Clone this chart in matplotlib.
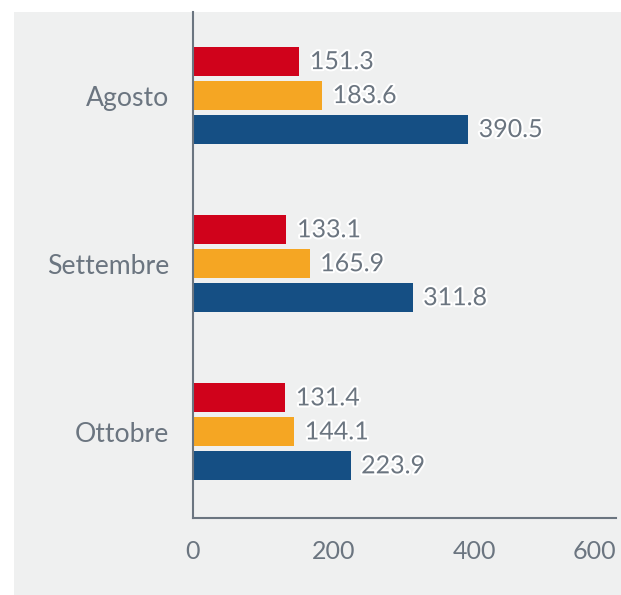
import matplotlib
matplotlib.use("Agg")
import matplotlib.pyplot as plt
import matplotlib.patheffects as pe
from matplotlib.patches import Rectangle
import numpy as np

# data
months = ["Agosto", "Settembre", "Ottobre"]
serie_rossa = [151.3, 133.1, 131.4]
serie_arancio = [183.6, 165.9, 144.1]
serie_blu = [390.5, 311.8, 223.9]
x_ticks = [0, 200, 400, 600]

colori = ["#d0021b", "#f5a623", "#154f84"]
grigio = "#6b7580"
sfondo = "#eff0f0"

plt.rcParams["font.family"] = ["Lato", "DejaVu Sans"]

fig = plt.figure(figsize=(6.21, 5.95), dpi=100)
fig.patches.append(Rectangle((14 / 621, 0), 1 - 14 / 621, 1 - 12 / 595,
                             transform=fig.transFigure, facecolor=sfondo,
                             edgecolor="none", zorder=-10))

ax = fig.add_axes([192.5 / 621, 77 / 595, 423.5 / 621, 506 / 595])
ax.set_facecolor("none")

y = np.arange(len(months))
h = 0.173
off = 0.202
for serie, dy, c in zip([serie_rossa, serie_arancio, serie_blu], [-off, 0, off], colori):
    bars = ax.barh(y + dy, serie, height=h, color=c, zorder=2)
    for b, v in zip(bars, serie):
        ax.text(v + 15, b.get_y() + b.get_height() / 2, f"{v:.1f}",
                va="center", ha="left", fontsize=18, color=grigio, zorder=3,
                path_effects=[pe.withStroke(linewidth=3, foreground="white")])

ax.set_xlim(0, 600)
ax.set_ylim(2.512, -0.497)
ax.set_yticks(y)
ax.set_yticklabels(months)
ax.set_xticks(x_ticks)
ax.tick_params(axis="both", length=0, labelcolor=grigio)
ax.tick_params(axis="x", pad=16, labelsize=18)
ax.tick_params(axis="y", pad=17, labelsize=19.2)
ax.get_xticklabels()[-1].set_horizontalalignment("right")

for s in ["top", "right"]:
    ax.spines[s].set_visible(False)
for s in ["left", "bottom"]:
    ax.spines[s].set_color(grigio)
    ax.spines[s].set_linewidth(1.5)

fig.savefig("out.png", dpi=100)
